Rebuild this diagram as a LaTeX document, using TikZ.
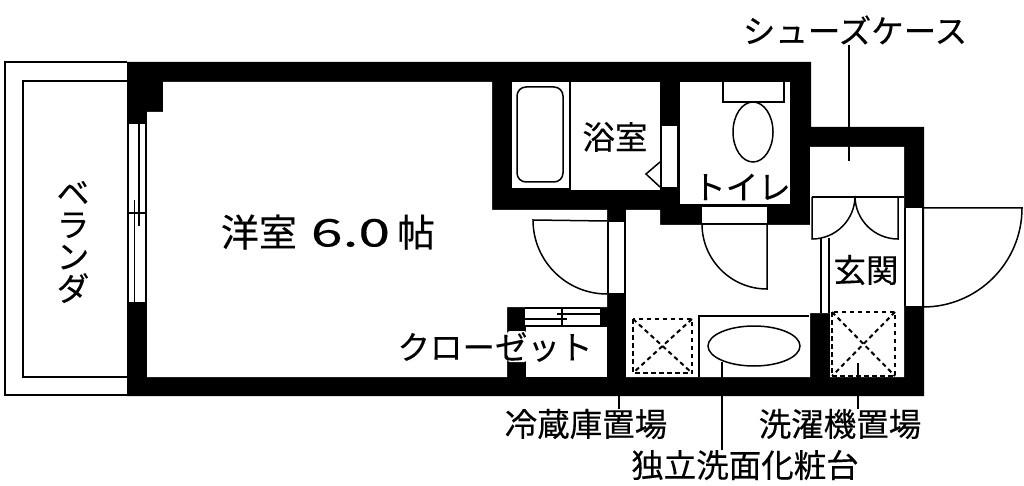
\documentclass[tikz,border=0pt]{standalone}
\usepackage{fontspec}
\usepackage{graphicx}
\setmainfont[FakeBold=0.3]{Noto Sans CJK JP}
\usetikzlibrary{positioning}
\usetikzlibrary{calc}
\tikzset{
  wall/.style={fill=black,draw=none},
  room/.style={fill=white,draw=none},
  fine/.style={draw=black,line width=1.5pt},
  swing/.style={draw=black,line width=1.5pt,line join=miter},
  slot/.style={draw=black,line width=2pt,dash pattern=on 4.5pt off 3.5pt},
  label/.style={inner sep=0pt,font=\fontsize{32.5}{32}\selectfont}
}

\begin{document}
\begin{tikzpicture}[x=1pt,y=-1pt]
    \useasboundingbox (0,0) rectangle (1024,486);
    %veranda
    \draw [line width=1.2pt] (127,62) -- (5,62) -- (5,395) -- (127,395);
    \draw [fine] (127,81) -- (23,81) -- (23,377) -- (127,377);

    %walls and rooms
    \fill [wall] (127,62) -- (811,62) -- (811,127) -- (924,127) -- (924,396) -- (127,396) -- cycle;
    \fill [room] (163,82) -- (492,82) -- (492,210) -- (607,210) -- (607,307) -- (507,307) -- (507,377) -- (147,377) -- (147,112) -- (163,112) -- cycle;
    \fill [room] (626,210) -- (660,210) -- (660,225) -- (810,225) -- (810,147) -- (904,147) -- (904,377) -- (830,377) -- (830,313) -- (810,313) -- (810,377) -- (626,377) -- cycle;
    \fill [room] (526,327) rectangle (607,377);
    \fill [room] (512,82) rectangle (569,188);
    \fill [room] (571,82) rectangle (660,190);
    \fill [room] (680,82) rectangle (790,204);
    \fill [room,rounded corners=3pt] (507,331) rectangle (527,362);

    %window
    \fill [room] (128,124) rectangle (146,302);
    \draw [fine] (128.5,124) -- (128.5,302) (146,124) -- (146,302);
    \draw [fine] (139,124) -- (139,226);
    \draw [fine] (134.5,200) -- (134.5,302);
    \draw [fine] (128,213) -- (146,213);

    %bath
    \draw [fine,rounded corners=9pt] (517,87) rectangle (563,182);
    \fill [room] (661,126) rectangle (678,187);
    \draw [fine] (661,126) -- (661,187) (678,126) -- (678,187);
    \draw [swing] (660,162) -- (646,174) -- (660,187);

    %toilet
    \draw [fine] (723,82) -- (723,102) -- (784,102) -- (784,82);
    \draw [fine] (753,132) ellipse [x radius=20,y radius=30];
    \fill [room] (702,207) rectangle (767,224);

    %doors
    \draw [swing] (702,224) -- (767,224) -- (767,289) arc [start angle=90,end angle=180,radius=65];
    \fill [room] (608,222) rectangle (625,293);
    \draw [fine] (608,222) -- (608,293) (625,222) -- (625,293);
    \draw [swing] (607,294) arc [start angle=90,end angle=180,radius=74] -- (607,221);
    \fill [room] (905,208) rectangle (923,306);
    \draw [fine] (905,208) -- (905,306) (923,208) -- (923,306);
    \draw [swing] (923,208) -- (1022,208) arc [start angle=0,end angle=90,radius=99];

    %shoe case
    \draw [fine] (812,197) -- (904,197);
    \draw [swing] (812,197) -- (812,239) arc [start angle=90,end angle=0,radius=43] arc [start angle=180,end angle=90,radius=43] -- (898,197);
    \draw [fine] (821,238) -- (821,313) (829,238) -- (829,313);

    %closet
    \fill [room] (525,309) rectangle (600,326);
    \draw [fine] (525,308) -- (600,308) (525,326) -- (600,326);
    \draw [fine] (557,314) -- (600,314);
    \draw [fine] (525,319) -- (567,319);
    \draw [fine] (562,308) -- (562,326);

    %fridge and washer
    \draw [slot] (633,319) rectangle (692,373);
    \draw [slot] (633,319) -- (692,373) (692,319) -- (633,373);
    \draw [slot] (832,312) rectangle (895,376);
    \draw [slot] (832,312) -- (895,376) (895,312) -- (832,376);

    %vanity
    \draw [fine] (699,377) -- (699,316) -- (809,316);
    \draw [fine] (754,346) ellipse [x radius=46,y radius=20];

    %labels
    \node [label,align=center] (veranda) at (73,242) {ベ\\ラ\\ン\\ダ};
    \node [inner sep=0pt,font=\fontsize{38}{38}\selectfont] (western) at (328,232) {洋室\hspace{14pt}\scalebox{1.5}[1]{6.0}\hspace{7pt}帖};
    \node [label] (bath_label) at (615,137) {浴室};
    \node [label] (toilet_label) at (742,187) {トイレ};
    \node [label] (entry_label) at (866,270) {玄関};
    \node [label] (closet_label) at (495,347) {クローゼット};
    \node [label] (shoes) at (855,30) {シューズケース};
    \node [label] (fridge) at (586,424) {冷蔵庫置場};
    \node [label] (washer) at (840,424) {洗濯機置場};
    \node [label] (sink) at (745,465) {独立洗面化粧台};

    \coordinate (shoes_end) at (849,161);
    \coordinate (fridge_end) at (619,380);
    \coordinate (washer_end) at (858,363);
    \coordinate (sink_end) at (722,362);
    \draw [fine] (shoes.south -| shoes_end) -- (shoes_end);
    \draw [fine] (fridge.north -| fridge_end) -- (fridge_end);
    \draw [fine] (washer.north -| washer_end) -- (washer_end);
    \draw [fine] (sink.north -| sink_end) -- (sink_end);
\end{tikzpicture}
\end{document}
